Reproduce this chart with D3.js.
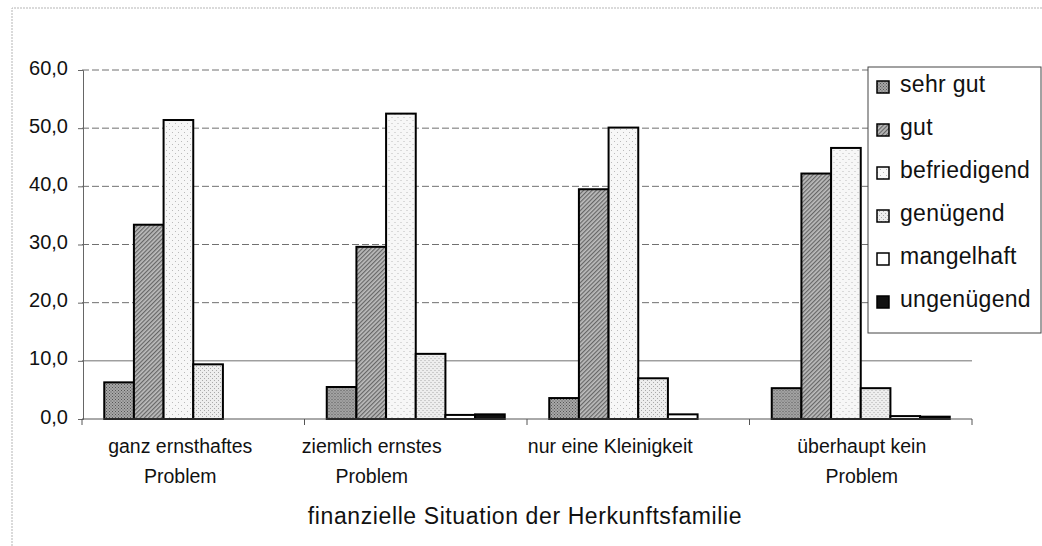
<!DOCTYPE html>
<html>
<head>
<meta charset="utf-8">
<script src="https://cdn.jsdelivr.net/npm/d3@7"></script>
<style>
  body { margin: 0; background: #fff; }
  svg { display: block; font-family: "Liberation Sans", Arial, sans-serif; }
</style>
</head>
<body>
<svg id="canvas"></svg>
<script>
// data
const categories = ['ganz ernsthaftes Problem', 'ziemlich ernstes Problem', 'nur eine Kleinigkeit', 'überhaupt kein Problem']
const categoryLines = [['ganz ernsthaftes', 'Problem'], ['ziemlich ernstes', 'Problem'], ['nur eine Kleinigkeit'], ['überhaupt kein', 'Problem']]
const seriesNames = ['sehr gut', 'gut', 'befriedigend', 'genügend', 'mangelhaft', 'ungenügend']
const sehrGut = [6.3, 5.5, 3.6, 5.3]
const gut = [33.4, 29.6, 39.5, 42.2]
const befriedigend = [51.4, 52.5, 50.1, 46.6]
const genuegend = [9.4, 11.2, 7.0, 5.3]
const mangelhaft = [0, 0.7, 0.8, 0.5]
const ungenuegend = [0, 0.8, 0, 0.4]
const yTicks = [0, 10, 20, 30, 40, 50, 60]
const xTitle = 'finanzielle Situation der Herkunftsfamilie'

const seriesValues = [sehrGut, gut, befriedigend, genuegend, mangelhaft, ungenuegend]

// layout
const width = 1042
const height = 546
const plotLeft = 82, plotRight = 972, plotTop = 70, plotBottom = 419
// the scanned category labels sit a bit off centre
const labelShift = [-13, -44, -28, 1]

const svg = d3.select('#canvas')
    .attr('width', width)
    .attr('height', height)

// fill patterns imitating the printed rasters
const defs = svg.append('defs')

function dotPattern(id, size, bg, dot, r) {
    const p = defs.append('pattern')
        .attr('id', id)
        .attr('patternUnits', 'userSpaceOnUse')
        .attr('width', size).attr('height', size)
    p.append('rect').attr('width', size).attr('height', size).attr('fill', bg)
    p.append('rect').attr('x', 0).attr('y', 0).attr('width', r).attr('height', r).attr('fill', dot)
    p.append('rect').attr('x', size / 2).attr('y', size / 2).attr('width', r).attr('height', r).attr('fill', dot)
}
dotPattern('p0', 3, '#a8a8a8', '#555', 1)
dotPattern('p2', 6, '#f7f7f7', '#bbb', 1)
dotPattern('p3', 4, '#eeeeee', '#aaa', 1)

const hatch = defs.append('pattern')
    .attr('id', 'p1')
    .attr('patternUnits', 'userSpaceOnUse')
    .attr('width', 3).attr('height', 3)
    .attr('patternTransform', 'rotate(45)')
hatch.append('rect').attr('width', 3).attr('height', 3).attr('fill', '#bdbdbd')
hatch.append('rect').attr('width', 1.2).attr('height', 3).attr('fill', '#666')

const fills = ['url(#p0)', 'url(#p1)', 'url(#p2)', 'url(#p3)', '#ffffff', '#111111']

// outer frame (only top and left edges show)
svg.append('path')
    .attr('d', `M12,${height} L12,8 L${width},8`)
    .attr('fill', 'none')
    .attr('stroke', '#b5b5b5')
    .attr('stroke-dasharray', '2,1')

const x0 = d3.scaleBand()
    .domain(categories)
    .range([plotLeft, plotRight])
    .paddingInner(0)
    .paddingOuter(0)

const x1 = d3.scaleBand()
    .domain(seriesNames)
    .range([0, x0.bandwidth()])
    .paddingInner(0)
    .paddingOuter(0.75)

const y = d3.scaleLinear()
    .domain([0, 60])
    .range([plotBottom, plotTop])

// gridlines
svg.append('g')
    .selectAll('line')
    .data(yTicks.filter(d => d > 0))
    .enter()
    .append('line')
    .attr('x1', plotLeft).attr('x2', plotRight)
    .attr('y1', d => y(d)).attr('y2', d => y(d))
    .attr('stroke', '#707070')
    .attr('stroke-width', 1)
    .attr('stroke-dasharray', d => d === 10 ? null : '7,3')

// y axis
const yAxis = d3.axisLeft(y)
    .tickValues(yTicks)
    .tickSize(5)
    .tickPadding(10)
    .tickFormat(d => d3.format('.1f')(d).replace('.', ','))

svg.append('g')
    .attr('id', 'y-axis')
    .attr('transform', 'translate(' + (plotLeft + 1) + ',0)')
    .call(yAxis)
    .call(g => g.select('.domain').attr('stroke', '#666'))
    .call(g => g.selectAll('.tick line').attr('stroke', '#666'))
    .call(g => g.selectAll('.tick text')
        .attr('font-size', 20)
        .attr('font-family', '"Liberation Sans", Arial, sans-serif')
        .attr('fill', '#111')
        .attr('dy', '0.2em'))

// bars
const groups = svg.append('g')
    .selectAll('g')
    .data(categories)
    .enter()
    .append('g')
    .attr('transform', d => 'translate(' + x0(d) + ',0)')

groups.selectAll('rect')
    .data((c, ci) => seriesNames.map((s, si) => ({ s: s, si: si, v: seriesValues[si][ci] })).filter(d => d.v > 0))
    .enter()
    .append('rect')
    .attr('x', d => x1(d.s))
    .attr('y', d => y(d.v))
    .attr('width', x1.bandwidth())
    .attr('height', d => y(0) - y(d.v))
    .attr('fill', d => fills[d.si])
    .attr('stroke', '#000')
    .attr('stroke-width', 2)

// x axis line with boundary ticks
svg.append('line')
    .attr('x1', plotLeft).attr('x2', plotRight)
    .attr('y1', plotBottom).attr('y2', plotBottom)
    .attr('stroke', '#555')
svg.append('g')
    .selectAll('line')
    .data(categories.concat(['end']))
    .enter()
    .append('line')
    .attr('x1', (d, i) => i < categories.length ? x0(d) : plotRight)
    .attr('x2', (d, i) => i < categories.length ? x0(d) : plotRight)
    .attr('y1', plotBottom).attr('y2', plotBottom + 6)
    .attr('stroke', '#555')

// category labels
const labels = svg.append('g')
    .selectAll('text')
    .data(categories)
    .enter()
    .append('text')
    .attr('text-anchor', 'middle')
    .attr('font-size', 19.5)
    .attr('fill', '#111')
    .attr('transform', (d, i) => 'translate(' + (x0(d) + x0.bandwidth() / 2 + labelShift[i]) + ',453)')

labels.selectAll('tspan')
    .data((d, i) => categoryLines[i])
    .enter()
    .append('tspan')
    .attr('x', 0)
    .attr('y', (d, i) => i * 30)
    .text(d => d)

svg.append('text')
    .attr('x', 525)
    .attr('y', 524)
    .attr('text-anchor', 'middle')
    .attr('font-size', 23)
    .attr('letter-spacing', 0.6)
    .attr('fill', '#111')
    .text(xTitle)

// legend
const legend = svg.append('g')
legend.append('rect')
    .attr('x', 868).attr('y', 67)
    .attr('width', 173).attr('height', 266)
    .attr('fill', '#fff')
    .attr('stroke', '#444')

const items = legend.selectAll('g.item')
    .data(seriesNames)
    .enter()
    .append('g')
    .attr('class', 'item')
    .attr('transform', (d, i) => 'translate(877,' + (92 + i * 43) + ')')

items.append('rect')
    .attr('x', 0).attr('y', -11)
    .attr('width', 12).attr('height', 12)
    .attr('fill', (d, i) => fills[i])
    .attr('stroke', '#000')
    .attr('stroke-width', 1.5)

items.append('text')
    .attr('x', 23)
    .attr('y', 0)
    .attr('font-size', 23)
    .attr('letter-spacing', 0.3)
    .attr('fill', '#111')
    .text(d => d)
</script>
</body>
</html>
